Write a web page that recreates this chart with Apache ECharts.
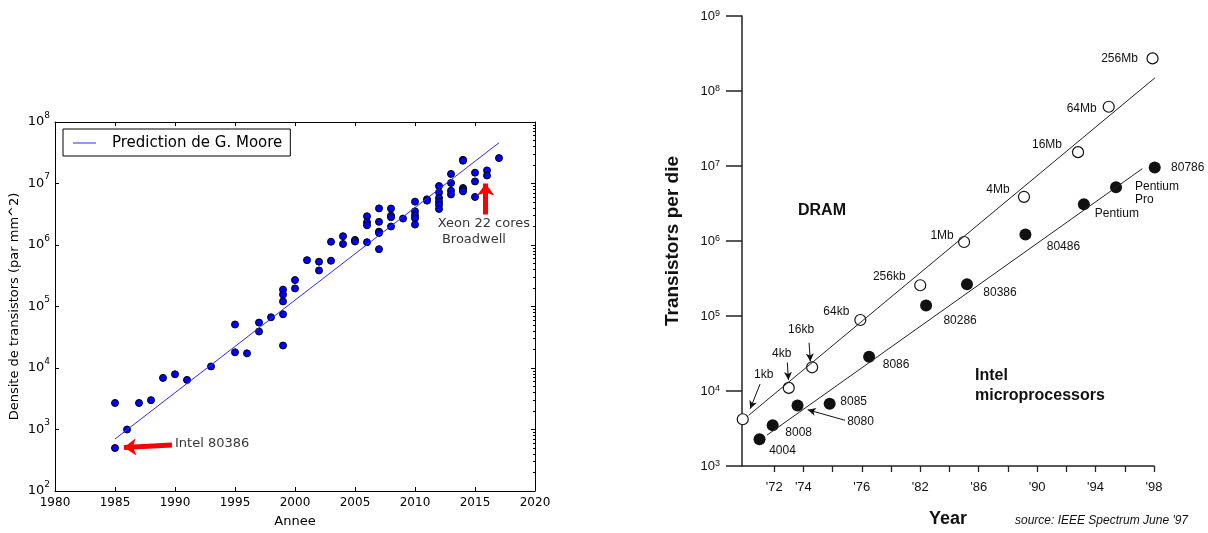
<!DOCTYPE html>
<html lang="en">
<head>
<meta charset="utf-8" />
<script src="https://cdn.jsdelivr.net/npm/echarts@6.0.0/dist/echarts.min.js"></script>
<style>
  html, body { margin: 0; background: #fff; }
  #container { width: 1208px; height: 533px; }
</style>
</head>
<body>
<div id="container"></div>
<script>
// ---- left panel: transistor density per chip (per mm^2)
const chipYear = [
  1985, 1985, 1986, 1987, 1988, 1989, 1990, 1991, 1993, 1995, 1995, 1996,
  1997, 1997, 1998, 1999, 1999, 1999, 1999, 1999, 2000, 2000, 2001, 2002,
  2002, 2003, 2003, 2004, 2004, 2005, 2005, 2006, 2006, 2006, 2006, 2007,
  2007, 2007, 2007, 2007, 2008, 2008, 2008, 2008, 2009, 2010, 2010, 2010,
  2010, 2010, 2011, 2011, 2012, 2012, 2012, 2012, 2012, 2012, 2013, 2013,
  2013, 2013, 2014, 2014, 2014, 2014, 2014, 2015, 2015, 2015, 2016, 2016,
  2017
];
const chipDensity = [
  2700, 500, 1000, 2700, 3000, 6900, 7900, 6400, 10600, 51000, 18000, 17300,
  54800, 39200, 66800, 188000, 156000, 121000, 74800, 23200, 269000, 197000, 567000, 535000,
  386000, 1.13e6, 555000, 1.39e6, 1.04e6, 1.21e6, 1.14e6, 2.93e6, 2.34e6, 2.09e6, 1.11e6, 3.94e6,
  2.38e6, 1.65e6, 1.57e6, 855000, 3.91e6, 3.0e6, 2.83e6, 2.0e6, 2.69e6, 5.07e6, 3.53e6, 3.04e6,
  2.72e6, 2.15e6, 5.52e6, 5.26e6, 9.1e6, 7.17e6, 5.82e6, 5.07e6, 4.48e6, 3.86e6, 1.43e7, 1.02e7,
  7.64e6, 6.65e6, 2.43e7, 2.35e7, 8.45e6, 7.94e6, 7.45e6, 1.5e7, 1.08e7, 6.04e6, 1.63e7, 1.35e7,
  2.59e7
];
const mooreLine = [[1985, 700], [2017, 4.6e7]];
const leftNotes = ['Intel 80386', 'Xeon 22 cores\n Broadwell'];
const leftNoteAt = [[1990, 585], [2011.9, 1.66e6]];
const leftArrows = [
  [[1989.75, 560], [1985.75, 510]],
  [[2015.89, 3.13e6], [2015.89, 1.0e7]]
];

// ---- right panel: transistors per die (IEEE Spectrum)
const dramNames = ['1kb', '4kb', '16kb', '64kb', '256kb', '1Mb', '4Mb', '16Mb', '64Mb', '256Mb'];
const dramYears = [1969.85, 1973.0, 1974.6, 1977.9, 1982.0, 1985.0, 1989.1, 1992.8, 1994.9, 1997.9];
const dramCount = [4200, 11000, 20700, 88500, 257000, 970000, 3.88e6, 1.53e7, 6.17e7, 2.72e8];
const cpuNames = ['4004', '8008', '8080', '8085', '8086', '80286', '80386', '80486', 'Pentium', 'Pentium\nPro', '80786'];
const cpuYears = [1971.0, 1971.9, 1973.6, 1975.8, 1978.5, 1982.4, 1985.2, 1989.2, 1993.2, 1995.4, 1998.05];
const cpuCount = [2280, 3490, 6420, 6750, 28700, 138000, 266000, 1.22e6, 3.09e6, 5.21e6, 9.55e6];
const dramTrend = [[1970.25, 4730], [1999.8, 2.86e8]];
const cpuTrend = [[1971.5, 2570], [1997.2, 9.2e6]];
const dramArrows = [
  [[1971.04, 12400], [1970.36, 5800]],
  [[1972.9, 24000], [1972.98, 14000]],
  [[1974.39, 44000], [1974.48, 24800]]
];
const cpuArrows = [[[1976.85, 4070], [1974.3, 5620]]];
const rightTickYears = [1972, 1974, 1976, 1978, 1980, 1982, 1984, 1986, 1988, 1990, 1992, 1994, 1996, 1998];
const rightLabelYears = [1972, 1974, 1978, 1982, 1986, 1990, 1994, 1998];
const rightLabelText = ["'72", "'74", "'76", "'82", "'86", "'90", "'94", "'98"];

// label placement (pixel offsets from point centre)
const dramLabelOff = [[21, -45], [-7, -34], [-11, -38], [-24, -8], [-31, -9], [-22, -6], [-26, -7], [-31, -7], [-27, 2], [-33, 0]];
const cpuLabelOff = [[23, 12], [26, 7], [63, 16], [24, -2], [27, 8], [34, 15], [33, 9], [38, 12], [33, 9], [19, 6], [33, 0]];

const LF = 'DejaVu Sans';
const RF = 'Liberation Sans';

// minor ticks for the log axis (2..9 x 10^k)
const minorVals = [];
for (let d = 2; d < 8; d++) {
  for (let k = 2; k < 10; k++) minorVals.push(k * Math.pow(10, d));
}

function powLabel(v) {
  return '{b|10}{s|' + Math.round(Math.log10(v)) + '}';
}

var dom = document.getElementById('container');
var myChart = echarts.init(dom, null, { renderer: 'canvas' });

const blackLine = { lineStyle: { color: '#000', width: 1 } };

var option = {
  animation: false,
  backgroundColor: '#fff',
  grid: [
    { left: 55, right: 673, top: 122, bottom: 41 },
    { left: 742, right: 54, top: 16, bottom: 64 }
  ],
  legend: {
    data: [{ name: 'Prediction de G. Moore', icon: 'rect' }],
    left: 63,
    top: 129,
    borderColor: '#000',
    borderWidth: 1,
    borderRadius: 0,
    padding: [5, 8, 4, 10],
    itemWidth: 23,
    itemHeight: 1,
    textStyle: { fontFamily: LF, fontSize: 15, lineHeight: 18, color: '#000', padding: [0, 0, 0, 11] }
  },
  xAxis: [
    {
      gridIndex: 0, type: 'value', min: 1980, max: 2020, interval: 5,
      name: 'Annee', nameLocation: 'middle', nameGap: 24,
      nameTextStyle: { fontFamily: LF, fontSize: 13, color: '#000' },
      axisLine: blackLine,
      axisTick: { inside: true, length: 4, lineStyle: { color: '#000' } },
      axisLabel: { fontFamily: LF, fontSize: 12, color: '#000', margin: 6, formatter: v => String(v) },
      splitLine: { show: false }
    },
    {
      gridIndex: 0, type: 'value', position: 'top', min: 1980, max: 2020, interval: 5,
      axisLine: blackLine,
      axisTick: { inside: true, length: 4, lineStyle: { color: '#000' } },
      axisLabel: { show: false },
      splitLine: { show: false }
    },
    {
      gridIndex: 1, type: 'value', min: 1969.8, max: 1998,
      name: 'Year', nameLocation: 'middle', nameGap: 44,
      nameTextStyle: { fontFamily: RF, fontSize: 18, fontWeight: 'bold', color: '#111' },
      axisLine: { lineStyle: { color: '#222', width: 1.5 } },
      axisTick: { length: 6, customValues: rightTickYears, lineStyle: { color: '#222', width: 1.3 } },
      axisLabel: {
        customValues: rightLabelYears,
        fontFamily: RF, fontSize: 13, color: '#111', margin: 15,
        formatter: v => rightLabelText[rightLabelYears.indexOf(Math.round(v))]
      },
      splitLine: { show: false }
    }
  ],
  yAxis: [
    {
      gridIndex: 0, type: 'log', logBase: 10, min: 100, max: 1e8,
      name: 'Densite de transistors (par mm^2)', nameLocation: 'middle', nameGap: 34,
      nameTextStyle: { fontFamily: LF, fontSize: 13, color: '#000' },
      axisLine: blackLine,
      axisTick: { inside: true, length: 4, lineStyle: { color: '#000' } },
      axisLabel: {
        margin: 5, color: '#000', formatter: powLabel,
        rich: {
          b: { fontFamily: LF, fontSize: 13, lineHeight: 22, verticalAlign: 'middle', color: '#000' },
          s: { fontFamily: LF, fontSize: 9, lineHeight: 10, verticalAlign: 'top', color: '#000' }
        }
      },
      splitLine: { show: false }
    },
    {
      gridIndex: 0, type: 'log', logBase: 10, min: 100, max: 1e8,
      axisLine: { show: false },
      axisTick: { inside: true, length: 2, customValues: minorVals, lineStyle: { color: '#000' } },
      axisLabel: { show: false },
      splitLine: { show: false }
    },
    {
      gridIndex: 0, type: 'log', logBase: 10, min: 100, max: 1e8, position: 'right',
      axisLine: blackLine,
      axisTick: { inside: true, length: 4, lineStyle: { color: '#000' } },
      axisLabel: { show: false },
      splitLine: { show: false }
    },
    {
      gridIndex: 0, type: 'log', logBase: 10, min: 100, max: 1e8, position: 'right',
      axisLine: { show: false },
      axisTick: { inside: true, length: 2, customValues: minorVals, lineStyle: { color: '#000' } },
      axisLabel: { show: false },
      splitLine: { show: false }
    },
    {
      gridIndex: 1, type: 'log', logBase: 10, min: 1e3, max: 1e9,
      name: 'Transistors per die', nameLocation: 'middle', nameGap: 60,
      nameTextStyle: { fontFamily: RF, fontSize: 19, fontWeight: 'bold', color: '#111' },
      axisLine: { lineStyle: { color: '#222', width: 1.5 } },
      axisTick: { length: 16, lineStyle: { color: '#222', width: 1.5 } },
      axisLabel: {
        margin: 22, formatter: powLabel,
        rich: {
          b: { fontFamily: RF, fontSize: 13, lineHeight: 14, verticalAlign: 'bottom', color: '#111' },
          s: { fontFamily: RF, fontSize: 9, lineHeight: 10, verticalAlign: 'top', color: '#111' }
        }
      },
      splitLine: { show: false }
    }
  ],
  graphic: [
    { type: 'text', left: 798, top: 203, style: { text: 'DRAM', font: 'bold 16px "Liberation Sans"', fill: '#111' } },
    { type: 'text', left: 975, top: 366, style: { text: 'Intel\nmicroprocessors', font: 'bold 16px "Liberation Sans"', lineHeight: 20, fill: '#111' } },
    { type: 'text', left: 1015, top: 515, style: { text: "source: IEEE Spectrum June '97", font: 'italic 12px "Liberation Sans"', fill: '#111' } }
  ],
  series: [
    {
      name: 'Prediction de G. Moore',
      type: 'line',
      xAxisIndex: 0, yAxisIndex: 0,
      data: mooreLine,
      symbol: 'none',
      lineStyle: { color: '#2a2aff', width: 1 },
      itemStyle: { color: '#2a2aff' },
      silent: true
    },
    {
      name: 'chips',
      type: 'scatter',
      xAxisIndex: 0, yAxisIndex: 0,
      data: chipYear.map((y, i) => [y, chipDensity[i]]),
      symbolSize: 7,
      itemStyle: { color: '#0000ff', borderColor: '#000', borderWidth: 1, opacity: 1 },
      silent: true,
      markLine: {
        silent: true,
        symbol: ['none', 'arrow'],
        symbolSize: [13, 12],
        label: { show: false },
        lineStyle: { color: '#ff0000', width: 5, type: 'solid' },
        data: leftArrows.map(a => [{ coord: a[0] }, { coord: a[1] }])
      }
    },
    {
      name: 'notes',
      type: 'scatter',
      xAxisIndex: 0, yAxisIndex: 0,
      data: leftNotes.map((t, i) => ({ name: t, value: leftNoteAt[i] })),
      symbolSize: 0,
      silent: true,
      label: {
        show: true, position: 'right', distance: 0, formatter: '{b}',
        fontFamily: LF, fontSize: 13, lineHeight: 16, color: '#000', align: 'left'
      }
    },
    {
      name: 'dramTrend', type: 'line', xAxisIndex: 2, yAxisIndex: 4,
      data: dramTrend, symbol: 'none', clip: false, silent: true,
      lineStyle: { color: '#222', width: 1 }
    },
    {
      name: 'cpuTrend', type: 'line', xAxisIndex: 2, yAxisIndex: 4,
      data: cpuTrend, symbol: 'none', clip: false, silent: true,
      lineStyle: { color: '#222', width: 1 }
    },
    {
      name: 'DRAM', type: 'scatter', xAxisIndex: 2, yAxisIndex: 4,
      clip: false, silent: true,
      data: dramNames.map((n, i) => ({ name: n, value: [dramYears[i], dramCount[i]], label: { offset: dramLabelOff[i] } })),
      symbolSize: 11,
      itemStyle: { color: '#fff', borderColor: '#111', borderWidth: 1.2, opacity: 1 },
      label: { show: true, position: 'inside', formatter: '{b}', fontFamily: RF, fontSize: 12, color: '#111' },
      markLine: {
        silent: true,
        symbol: ['none', 'arrow'],
        symbolSize: [6, 8],
        label: { show: false },
        lineStyle: { color: '#111', width: 1, type: 'solid' },
        data: dramArrows.map(a => [{ coord: a[0] }, { coord: a[1] }])
      }
    },
    {
      name: 'Intel', type: 'scatter', xAxisIndex: 2, yAxisIndex: 4,
      clip: false, silent: true,
      data: cpuNames.map((n, i) => ({
        name: n, value: [cpuYears[i], cpuCount[i]],
        label: { offset: cpuLabelOff[i], align: n.indexOf('\n') >= 0 ? 'left' : 'center' }
      })),
      symbolSize: 12,
      itemStyle: { color: '#111', opacity: 1 },
      label: { show: true, position: 'inside', formatter: '{b}', fontFamily: RF, fontSize: 12, lineHeight: 13, color: '#111' },
      markLine: {
        silent: true,
        symbol: ['none', 'arrow'],
        symbolSize: [6, 8],
        label: { show: false },
        lineStyle: { color: '#111', width: 1, type: 'solid' },
        data: cpuArrows.map(a => [{ coord: a[0] }, { coord: a[1] }])
      }
    }
  ]
};

myChart.setOption(option);
window.addEventListener('resize', myChart.resize);
</script>
</body>
</html>
